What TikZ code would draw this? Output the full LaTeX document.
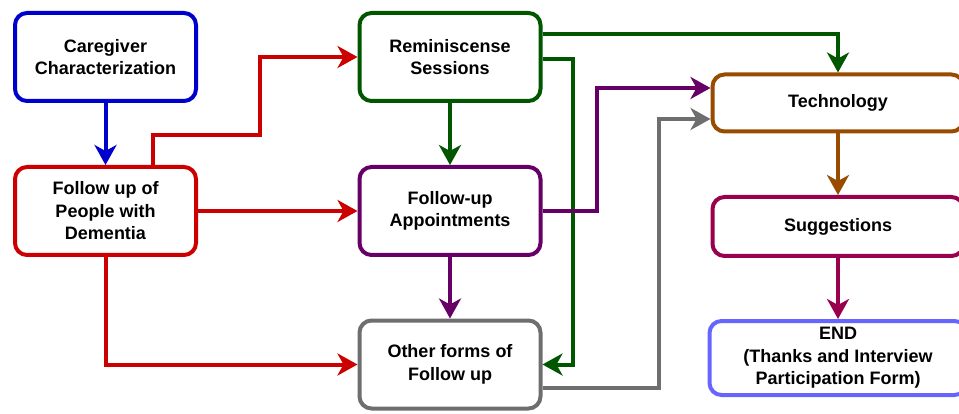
\documentclass[tikz,border=0pt]{standalone}
\usepackage{fontspec}
\setmainfont{Liberation Sans}
\usetikzlibrary{arrows.meta,calc}

\definecolor{cBlue}{HTML}{0000CC}
\definecolor{cRed}{HTML}{CC0000}
\definecolor{cGreen}{HTML}{005700}
\definecolor{cPurple}{HTML}{660066}
\definecolor{cGray}{HTML}{6E6E6E}
\definecolor{cBrown}{HTML}{994C00}
\definecolor{cMaroon}{HTML}{99004D}
\definecolor{cLav}{HTML}{6666FF}

\tikzset{
  box/.style={draw, line width=4pt, rounded corners=12pt, fill=white,
    align=center, font=\bfseries\fontsize{18}{22.5}\selectfont,
    minimum width=181pt, minimum height=88pt, inner sep=1pt},
  widebox/.style={box, minimum width=251pt, minimum height=57pt},
  link/.style={line width=4pt, -{Stealth[length=20pt,width=22pt,inset=6pt]}},
}

\begin{document}
\begin{tikzpicture}[x=1pt,y=-1pt]
  \useasboundingbox (0,0) rectangle (959,414);
  \clip (0,0) rectangle (959,414);

  % boxes
  \node[box, draw=cBlue]   (care)  at (105.5,57)  {Caregiver\\Characterization};
  \node[box, draw=cRed]    (pwd)   at (105.5,211) {Follow up of\\People with\\Dementia};
  \node[box, draw=cGreen]  (rem)   at (450,57)    {Reminiscense\\Sessions};
  \node[box, draw=cPurple] (app)   at (450,211)   {Follow-up\\Appointments};
  \node[box, draw=cGray]   (other) at (450,364.5) {Other forms of\\Follow up};
  \node[widebox, draw=cBrown]  (tech) at (838,103) {Technology};
  \node[widebox, draw=cMaroon, minimum height=59pt] (sugg) at (838,226.5) {Suggestions};
  \node[widebox, draw=cLav, minimum width=257pt, minimum height=74pt] (end) at (838,358) {END\\(Thanks and Interview\\Participation Form)};

  % routing points
  \coordinate (r1) at (260,135);
  \coordinate (g1) at (573,0);
  \coordinate (p1) at (597,0);
  \coordinate (y1) at (659,0);

  % connectors
  \draw[link, cBlue] (care) -- (pwd);

  \draw[link, cRed] ([xshift=47pt]pwd.north) |- (r1) |- (rem.west);
  \draw[link, cRed] (pwd.east) -- (app.west);
  \draw[link, cRed] (pwd.south) |- (other.west);

  \draw[link, cGreen] (rem) -- (app);
  \draw[link, cGreen] ([yshift=23pt]rem.east) -| (tech.north);
  \draw[link, cGreen] ([yshift=-2pt]rem.east) -| (g1 |- other.east) -- (other.east);

  \draw[link, cPurple] (app) -- (other);
  \draw[link, cPurple] (app.east) -| (p1 |- app.east) |- ([yshift=15pt]tech.west);

  \draw[link, cGray] ([yshift=-23pt]other.east) -| (y1 |- other.east) |- ([yshift=-16pt]tech.west);

  \draw[link, cBrown] (tech) -- (sugg);
  \draw[link, cMaroon] (sugg) -- (end);
\end{tikzpicture}
\end{document}
